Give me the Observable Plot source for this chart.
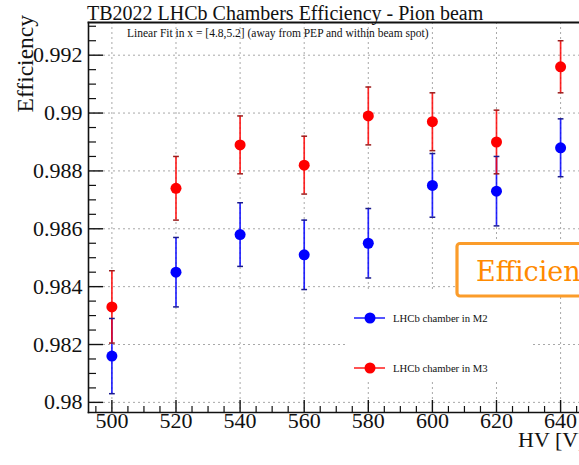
<!DOCTYPE html>
<html><head><meta charset="utf-8">
<script src="https://cdn.jsdelivr.net/npm/d3@7"></script>
<script src="https://cdn.jsdelivr.net/npm/@observablehq/plot@0.6"></script>
<style>
body{margin:0;background:#fff;}
#wrap{position:relative;width:579px;height:465px;overflow:hidden;font-family:"Liberation Serif",serif;background:#fff;}
#wrap svg{position:absolute;left:0;top:0;}
</style></head><body><div id="wrap"></div>
<script>
// ---- data ----
const hv = [500, 520, 540, 560, 580, 600, 620, 640];
const effM2 = [0.9816, 0.9845, 0.9858, 0.9851, 0.9855, 0.9875, 0.9873, 0.9888];
const errM2 = [0.0013, 0.0012, 0.0011, 0.0012, 0.0012, 0.0011, 0.0012, 0.0010];
const effM3 = [0.9833, 0.9874, 0.9889, 0.9882, 0.9899, 0.9897, 0.9890, 0.9916];
const errM3 = [0.00125, 0.0011, 0.0010, 0.0010, 0.0010, 0.0010, 0.0011, 0.0009];
const seriesNames = ["LHCb chamber in M2", "LHCb chamber in M3"];
const seriesColors = ["#0000ff", "#ff0000"];
const capColors = ["#1a1a8c", "#9a1c1c"];
const xMajor = [500, 520, 540, 560, 580, 600, 620, 640];
const xMinor = d3.range(495, 646, 5).filter(v => v % 20 !== 0);
const yMajor = [0.98, 0.982, 0.984, 0.986, 0.988, 0.99, 0.992];
const yMinor = d3.range(0, 27).map(i => +(0.98 + i * 0.0005).toFixed(4)).filter(v => !yMajor.includes(v));
const title = "TB2022 LHCb Chambers Efficiency - Pion beam";
const subtitle = "Linear Fit in x = [4.8,5.2] (away from PEP and within beam spot)";
const yTitle = "Efficiency";
const xTitle = "HV [V]";
const badge = "Efficiency";

const rows = [];
hv.forEach((v, i) => {
  rows.push({hv: v, eff: effM2[i], err: errM2[i], s: 0});
  rows.push({hv: v, eff: effM3[i], err: errM3[i], s: 1});
});

const W = 579, H = 465;
const xDomain = [492.7, 645.9], yDomain = [0.97965, 0.99313];
const capHalf = 0.9;
const serif = "Liberation Serif";
const fmtY = d => String(+d.toFixed(3));

const plot = Plot.plot({
  width: W, height: H,
  marginLeft: 88, marginTop: 22, marginBottom: 53, marginRight: 0,
  style: {fontFamily: serif, background: "transparent", color: "#111", overflow: "visible"},
  x: {domain: xDomain},
  y: {domain: yDomain},
  marks: [
    Plot.gridX(xMajor, {stroke: "#a8a8a8", strokeOpacity: 1, strokeDasharray: "2,3"}),
    Plot.gridY(yMajor, {stroke: "#a8a8a8", strokeOpacity: 1, strokeDasharray: "2,3"}),
    Plot.ruleX(rows, {x: "hv", y1: d => d.eff - d.err, y2: d => d.eff + d.err,
      stroke: d => seriesColors[d.s], strokeWidth: 1.7, strokeOpacity: 0.85}),
    Plot.link(rows, {x1: d => d.hv - capHalf, x2: d => d.hv + capHalf, y1: d => d.eff + d.err, y2: d => d.eff + d.err,
      stroke: d => capColors[d.s], strokeWidth: 1.5}),
    Plot.link(rows, {x1: d => d.hv - capHalf, x2: d => d.hv + capHalf, y1: d => d.eff - d.err, y2: d => d.eff - d.err,
      stroke: d => capColors[d.s], strokeWidth: 1.5}),
    Plot.dot(rows, {x: "hv", y: "eff", r: 5.5, fill: d => seriesColors[d.s], stroke: "none"}),
    Plot.frame({anchor: "left", stroke: "#111", strokeWidth: 1.6}),
    Plot.frame({anchor: "bottom", stroke: "#111", strokeWidth: 1.6}),
    Plot.frame({anchor: "top", stroke: "#111", strokeWidth: 1.8}),
    Plot.axisX(xMajor, {tickSize: 12, dy: -12, tickFormat: () => "", label: null, stroke: "#111", strokeWidth: 1.4}),
    Plot.axisX(xMinor, {tickSize: 6, dy: -6, tickFormat: () => "", label: null, stroke: "#111", strokeWidth: 1.2}),
    Plot.axisX(xMajor, {tickSize: 0, tickPadding: 0, label: null, fontSize: 22, fontFamily: serif, fill: "#111"}),
    Plot.axisY(yMajor, {tickSize: 15, dx: 15, tickFormat: () => "", label: null, stroke: "#111", strokeWidth: 1.4}),
    Plot.axisY(yMinor, {tickSize: 8, dx: 8, tickFormat: () => "", label: null, stroke: "#111", strokeWidth: 1.2}),
    Plot.axisY(yMajor, {tickSize: 0, tickPadding: 6, tickFormat: fmtY, label: null, fontSize: 22, fontFamily: serif, fill: "#111"})
  ]
});

const wrap = d3.select("#wrap");
wrap.node().appendChild(plot);

// overlay: titles, legend, badge
const ov = wrap.append("svg").attr("width", W).attr("height", H).style("overflow", "hidden");
ov.append("text").attr("x", 87).attr("y", 20).attr("font-family", serif).attr("font-size", 20)
  .attr("fill", "#111").text(title);
ov.append("text").attr("x", 127).attr("y", 37).attr("font-family", serif).attr("font-size", 11.5)
  .attr("fill", "#111").text(subtitle);
ov.append("text").attr("transform", "translate(33,15) rotate(-90)").attr("text-anchor", "end")
  .attr("font-family", serif).attr("font-size", 23.5).attr("fill", "#111").text(yTitle);
ov.append("text").attr("x", 518).attr("y", 447).attr("font-family", serif).attr("font-size", 22)
  .attr("fill", "#111").text(xTitle);

// legend
const leg = ov.append("g");
leg.append("rect").attr("x", 347).attr("y", 291).attr("width", 186).attr("height", 90).attr("fill", "#fff");
[318, 368].forEach((ly, i) => {
  leg.append("line").attr("x1", 354).attr("x2", 385).attr("y1", ly).attr("y2", ly)
    .attr("stroke", seriesColors[i]).attr("stroke-width", 1.6).attr("stroke-opacity", 0.85);
  leg.append("circle").attr("cx", 370).attr("cy", ly).attr("r", 5.5).attr("fill", seriesColors[i]);
  leg.append("text").attr("x", 393).attr("y", ly + 3.6).attr("font-family", serif).attr("font-size", 10.7)
    .attr("fill", "#111").text(seriesNames[i]);
});

// orange badge
const bd = ov.append("g");
bd.append("rect").attr("x", 457).attr("y", 243.5).attr("width", 200).attr("height", 52.5).attr("rx", 3)
  .attr("fill", "#fff").attr("stroke", "#fb9c2a").attr("stroke-width", 3.2);
bd.append("text").attr("x", 476).attr("y", 281).attr("font-family", "DejaVu Serif").attr("font-size", 27)
  .attr("fill", "#ff8a00").text(badge);
</script></body></html>
